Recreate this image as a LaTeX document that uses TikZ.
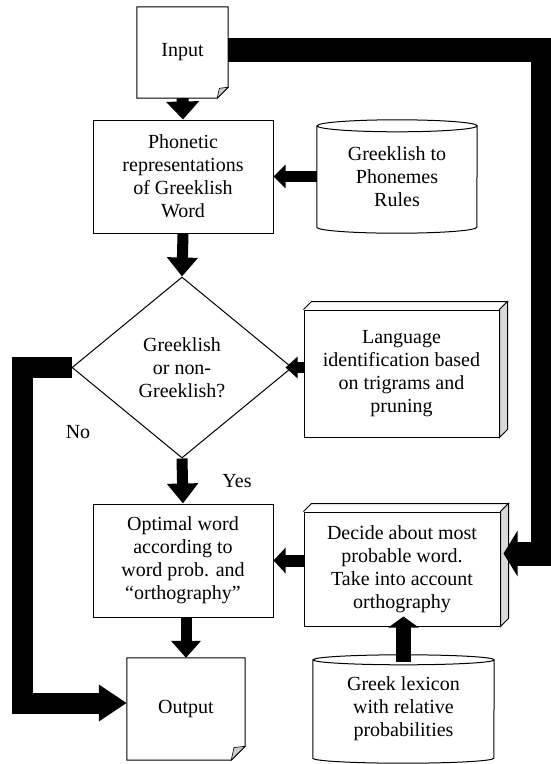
\documentclass[tikz,border=0pt]{standalone}
\usepackage{fontspec}
\setmainfont{Liberation Serif}
\usetikzlibrary{arrows.meta,shapes.geometric,calc}
\tikzset{>=latex}
\tikzset{
  txt/.style={font=\fontsize{20}{23}\selectfont, align=center, inner sep=0pt},
  procbox/.style={txt, draw, line width=1pt},
  hidbox/.style={txt},
  decbox/.style={txt, diamond, draw, line width=1pt, aspect=1},
  blockarrow/.style n args={3}{line width=#1, -{Triangle[length=#2,width=#3]}}
}
% document with folded corner
\newcommand\docfold[2]{%
  \draw[line width=1pt] (#1.north west) -- (#1.north east) -- ([yshift=#2pt]#1.south east)
    -- ([xshift=-#2pt]#1.south east) -- (#1.south west) -- cycle;
  \draw[fill=gray!40, line width=0.6pt] ([yshift=#2pt]#1.south east) -- ([xshift=-#2pt]#1.south east)
    -- ([shift={({-0.8*#2pt},{0.9*#2pt})}]#1.south east) -- cycle;
}
% drum (stored data)
\newcommand\drum[3]{%
  \draw[line width=1pt] ([yshift=-#3pt]#1.north west) -- ([yshift=#3pt]#1.south west)
    arc[start angle=180, end angle=360, x radius=#2pt, y radius=#3pt]
    -- ([yshift=-#3pt]#1.north east)
    arc[start angle=0, end angle=360, x radius=#2pt, y radius=#3pt];
}
% raised box
\newcommand\slab[2]{%
  \draw[line width=1pt] (#1.north west) -- ++(#2pt,#2pt) -- ([shift={(#2pt,#2pt)}]#1.north east) -- (#1.north east);
  \draw[line width=1pt, fill=gray!30] (#1.north east) -- ([shift={(#2pt,#2pt)}]#1.north east)
    -- ([shift={(#2pt,#2pt)}]#1.south east) -- (#1.south east) -- cycle;
}

\begin{document}
\begin{tikzpicture}[x=1pt,y=-1pt]
  \useasboundingbox (0,0) rectangle (550,764);
  % Boxes
  \node[hidbox, minimum width=91pt, minimum height=91pt] (input) at (182.5,52.5) {Input};
  \node[procbox, minimum width=180pt, minimum height=113pt] (phon) at (183,176.5) {Phonetic\\representations\\of Greeklish\\Word};
  \node[hidbox, minimum width=160pt, minimum height=113pt] (rules) at (397,176.5) {Greeklish to\\Phonemes\\Rules};
  \node[decbox, minimum width=220pt, minimum height=181pt] (dec) at (182,367.5) {Greeklish\\or non-\\Greeklish?};
  \node[procbox, minimum width=195pt, minimum height=127pt] (lang) at (401.5,373.5) {Language\\identification based\\on trigrams and\\pruning};
  \node[procbox, minimum width=180pt, minimum height=113pt] (opt) at (183,560.5) {Optimal word\\according to\\word prob. and\\“orthography”};
  \node[procbox, minimum width=196pt, minimum height=114pt] (decide) at (402,569) {Decide about most\\probable word.\\Take into account\\orthography};
  \node[hidbox, minimum width=118pt, minimum height=102pt] (output) at (186,709) {Output};
  \node[hidbox, minimum width=181pt, minimum height=108pt] (lex) at (403.5,709) {Greek lexicon\\with relative\\probabilities};
  \node[txt] (no) at (78,432) {No};
  \node[txt] (yes) at (237,481) {Yes};
  \coordinate (lcol) at (22,0);
  \coordinate (rcol) at (543,0);
  % Outlines
  \docfold{input}{11}
  \docfold{output}{14}
  \drum{rules}{80}{6}
  \drum{lex}{90.5}{5}
  \slab{lang}{8}
  \slab{decide}{8}
  % Arrows
  \draw[blockarrow={12pt}{18pt}{32pt}] (input.south) -- (phon.north);
  \draw[blockarrow={11pt}{12pt}{23pt}] (rules.west) -- (phon.east);
  \draw[blockarrow={11pt}{19pt}{30pt}] (phon.south) -- (dec.north);
  \draw[blockarrow={11pt}{20pt}{30pt}] (dec.south) -- (opt.north);
  \draw[blockarrow={11pt}{12pt}{21pt}] (lang.west |- dec.east) -- ([xshift=-7pt]dec.east);
  \draw[blockarrow={12pt}{12pt}{25pt}] (decide.west |- opt.east) -- (opt.east);
  \draw[blockarrow={11pt}{17pt}{29pt}] (opt.south -| output.north) -- (output.north);
  \draw[blockarrow={15pt}{11pt}{30pt}] ([yshift=-7pt]lex.north) -- ([yshift=10pt]decide.south -| lex.north);
  \draw[blockarrow={24pt}{14pt}{45pt}] ([yshift=2.5pt]input.east) -- ([yshift=2.5pt]input.east -| rcol)
    |- ([shift={(3pt,15.5pt)}]decide.east);
  \draw[blockarrow={21pt}{28pt}{35pt}] (dec.west) -- (dec.west -| lcol) |- ([yshift=6pt]output.west);
\end{tikzpicture}
\end{document}
